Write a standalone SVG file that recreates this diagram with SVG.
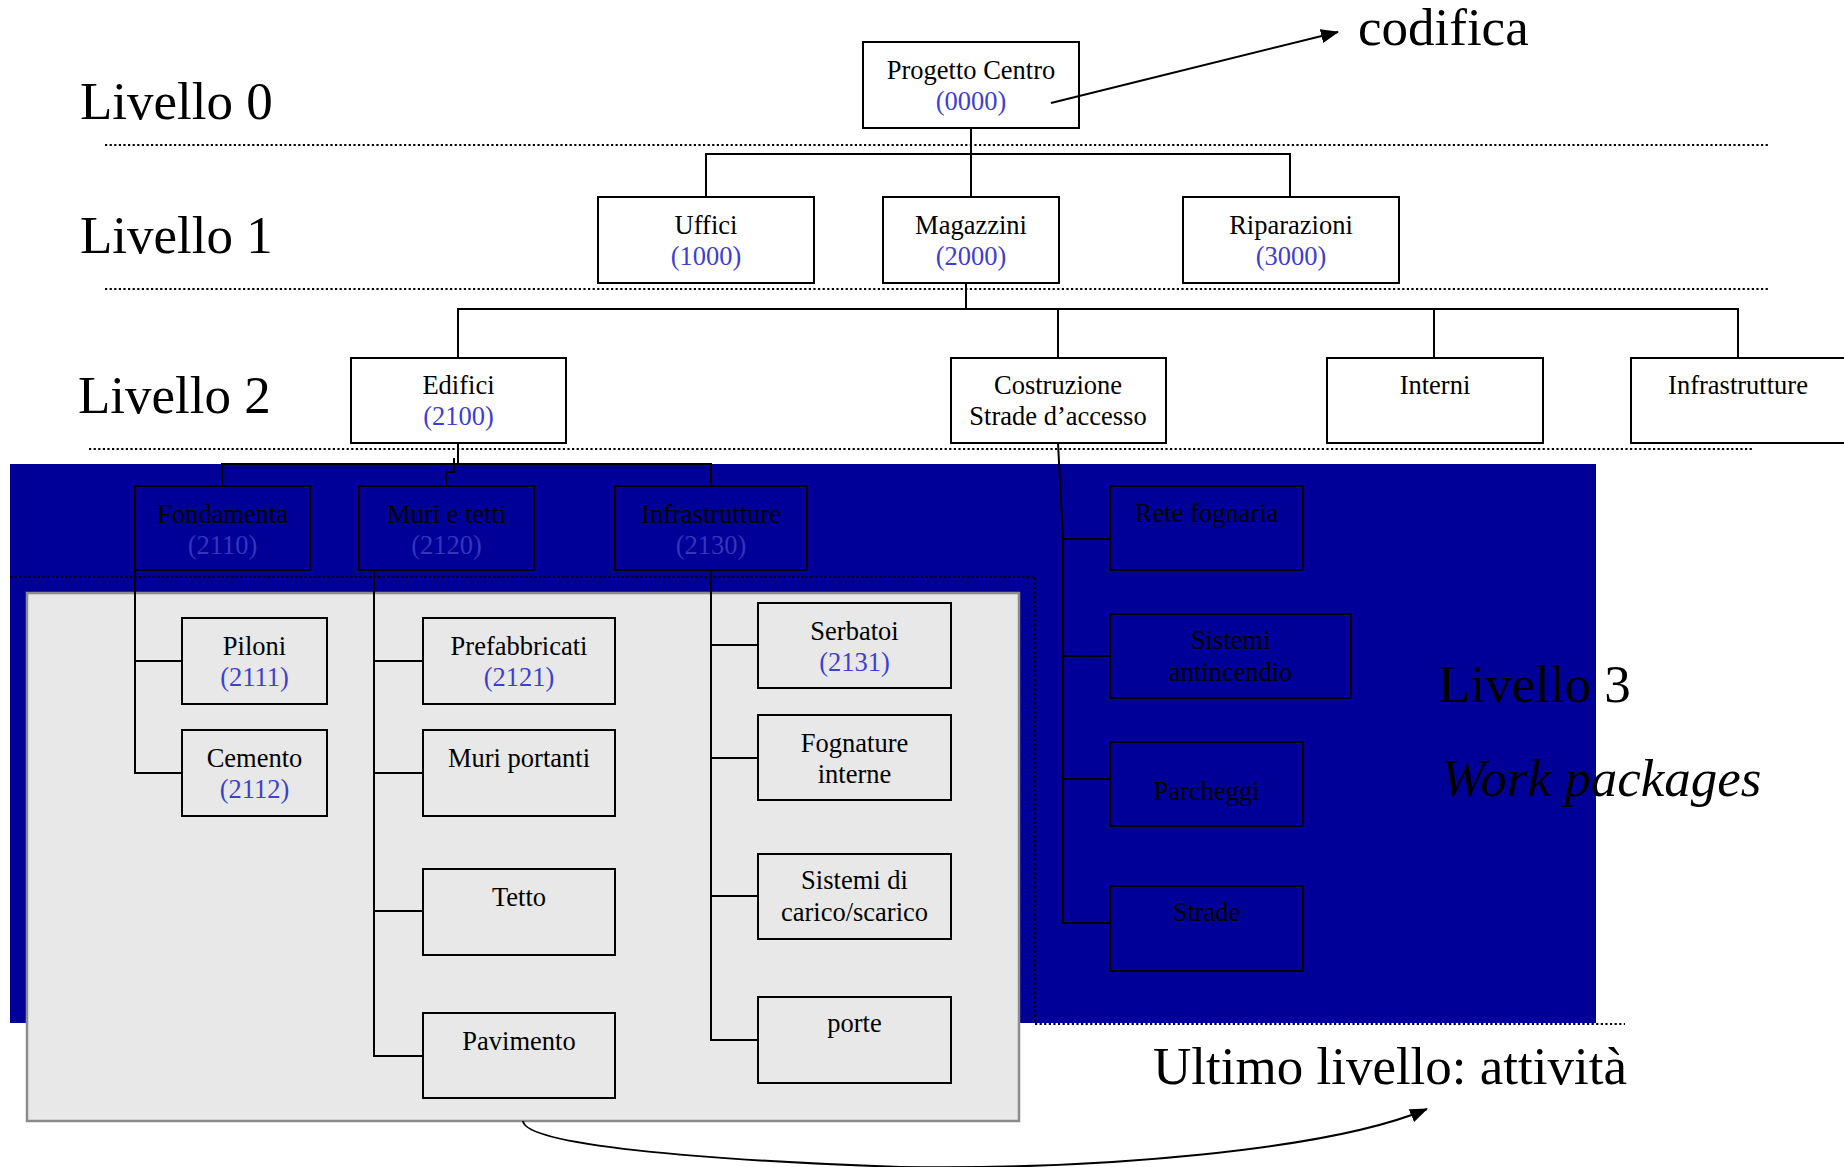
<svg xmlns="http://www.w3.org/2000/svg" width="1844" height="1167" viewBox="0 0 1844 1167">
  <style>
    .lvl { font-family: "Liberation Serif", "Times New Roman", serif; font-size: 53px; fill: #000; }
    .lvl-i { font-family: "Liberation Serif", "Times New Roman", serif; font-size: 53px; font-style: italic; fill: #000; }
    .t { font-family: "Liberation Serif", "Times New Roman", serif; font-size: 26.5px; fill: #000; text-anchor: middle; }
    .code { fill: #3f3fcf; }
    .code-dk { fill: #3434bd; }
    .box { stroke: #000; stroke-width: 2; }
    .white { fill: #fff; }
    .blue { fill: #000099; }
    .grey { fill: #e8e8e8; }
    .conn { fill: none; stroke: #000; stroke-width: 2; }
    .dots { fill: none; stroke: #000; stroke-width: 2; stroke-dasharray: 2.2 2.4; }
  </style>
  <defs>
    <marker id="arrow" markerUnits="userSpaceOnUse" markerWidth="18" markerHeight="14" refX="17" refY="7" orient="auto">
      <path d="M0,0 L18,7 L0,14 z" fill="#000"/>
    </marker>
  </defs>

  <rect width="1844" height="1167" fill="#fff"/>

  <!-- work package band and activity area -->
  <rect x="10" y="464" width="1586" height="559" class="blue"/>
  <path class="dots" d="M10,577 H1035 V1024 H1625"/>
  <rect x="27" y="593" width="992" height="528" fill="#e8e8e8" stroke="#8c8c8c" stroke-width="2.5"/>

  <!-- level separators -->
  <g id="separators">
    <line class="dots" x1="105" y1="145" x2="1769" y2="145"/>
    <line class="dots" x1="105" y1="289" x2="1769" y2="289"/>
    <line class="dots" x1="89" y1="449" x2="1753" y2="449"/>
  </g>

  <!-- level labels -->
  <g id="labels">
    <text class="lvl" x="80" y="119">Livello 0</text>
    <text class="lvl" x="80" y="253">Livello 1</text>
    <text class="lvl" x="78" y="413">Livello 2</text>
    <text class="lvl" x="1438" y="702">Livello 3</text>
    <text class="lvl-i" x="1441" y="796">Work packages</text>
    <text class="lvl" x="1153" y="1084">Ultimo livello: attività</text>
    <text class="lvl" x="1358" y="45">codifica</text>
  </g>

  <!-- level 0 -->
  <g id="progetto">
    <rect class="box white" x="863" y="42" width="216" height="86"/>
    <text class="t" x="971" y="79">Progetto Centro</text>
    <text class="t code" x="971" y="110">(0000)</text>
  </g>

  <!-- level 1 -->
  <g id="uffici">
    <rect class="box white" x="598" y="197" width="216" height="86"/>
    <text class="t" x="706" y="234">Uffici</text>
    <text class="t code" x="706" y="265">(1000)</text>
  </g>
  <g id="magazzini">
    <rect class="box white" x="883" y="197" width="176" height="86"/>
    <text class="t" x="971" y="234">Magazzini</text>
    <text class="t code" x="971" y="265">(2000)</text>
  </g>
  <g id="riparazioni">
    <rect class="box white" x="1183" y="197" width="216" height="86"/>
    <text class="t" x="1291" y="234">Riparazioni</text>
    <text class="t code" x="1291" y="265">(3000)</text>
  </g>

  <!-- level 2 -->
  <g id="edifici">
    <rect class="box white" x="351" y="358" width="215" height="85"/>
    <text class="t" x="458.5" y="394">Edifici</text>
    <text class="t code" x="458.5" y="425">(2100)</text>
  </g>
  <g id="costruzione">
    <rect class="box white" x="951" y="358" width="215" height="85"/>
    <text class="t" x="1058" y="394">Costruzione</text>
    <text class="t" x="1058" y="425">Strade d’accesso</text>
  </g>
  <g id="interni">
    <rect class="box white" x="1327" y="358" width="216" height="85"/>
    <text class="t" x="1435" y="394">Interni</text>
  </g>
  <g id="infrastrutture-2">
    <rect class="box white" x="1631" y="358" width="216" height="85"/>
    <text class="t" x="1738" y="394">Infrastrutture</text>
  </g>

  <!-- level 3 -->
  <g id="fondamenta">
    <rect class="box blue" x="135" y="486" width="175" height="84"/>
    <text class="t" x="222.5" y="523">Fondamenta</text>
    <text class="t code-dk" x="222.5" y="554">(2110)</text>
  </g>
  <g id="muri-tetti">
    <rect class="box blue" x="359" y="486" width="175" height="84"/>
    <text class="t" x="446.5" y="523">Muri e tetti</text>
    <text class="t code-dk" x="446.5" y="554">(2120)</text>
  </g>
  <g id="infrastrutture-3">
    <rect class="box blue" x="615" y="486" width="192" height="84"/>
    <text class="t" x="711" y="523">Infrastrutture</text>
    <text class="t code-dk" x="711" y="554">(2130)</text>
  </g>
  <g id="rete-fognaria">
    <rect class="box blue" x="1110" y="486" width="193" height="84"/>
    <text class="t" x="1206.5" y="522">Rete fognaria</text>
  </g>
  <g id="sistemi-antincendio">
    <rect class="box blue" x="1110" y="614" width="241" height="84"/>
    <text class="t" x="1230.5" y="649">Sistemi</text>
    <text class="t" x="1230.5" y="681">antincendio</text>
  </g>
  <g id="parcheggi">
    <rect class="box blue" x="1110" y="742" width="193" height="84"/>
    <text class="t" x="1206.5" y="800">Parcheggi</text>
  </g>
  <g id="strade">
    <rect class="box blue" x="1110" y="886" width="193" height="85"/>
    <text class="t" x="1206.5" y="921">Strade</text>
  </g>

  <!-- activities -->
  <g id="piloni">
    <rect class="box grey" x="182" y="618" width="145" height="86"/>
    <text class="t" x="254.5" y="655">Piloni</text>
    <text class="t code" x="254.5" y="686">(2111)</text>
  </g>
  <g id="cemento">
    <rect class="box grey" x="182" y="730" width="145" height="86"/>
    <text class="t" x="254.5" y="767">Cemento</text>
    <text class="t code" x="254.5" y="798">(2112)</text>
  </g>
  <g id="prefabbricati">
    <rect class="box grey" x="423" y="618" width="192" height="86"/>
    <text class="t" x="519" y="655">Prefabbricati</text>
    <text class="t code" x="519" y="686">(2121)</text>
  </g>
  <g id="muri-portanti">
    <rect class="box grey" x="423" y="730" width="192" height="86"/>
    <text class="t" x="519" y="767">Muri portanti</text>
  </g>
  <g id="tetto">
    <rect class="box grey" x="423" y="869" width="192" height="86"/>
    <text class="t" x="519" y="906">Tetto</text>
  </g>
  <g id="pavimento">
    <rect class="box grey" x="423" y="1013" width="192" height="85"/>
    <text class="t" x="519" y="1050">Pavimento</text>
  </g>
  <g id="serbatoi">
    <rect class="box grey" x="758" y="603" width="193" height="85"/>
    <text class="t" x="854.5" y="640">Serbatoi</text>
    <text class="t code" x="854.5" y="671">(2131)</text>
  </g>
  <g id="fognature">
    <rect class="box grey" x="758" y="715" width="193" height="85"/>
    <text class="t" x="854.5" y="752">Fognature</text>
    <text class="t" x="854.5" y="783">interne</text>
  </g>
  <g id="carico-scarico">
    <rect class="box grey" x="758" y="854" width="193" height="85"/>
    <text class="t" x="854.5" y="889">Sistemi di</text>
    <text class="t" x="854.5" y="921">carico/scarico</text>
  </g>
  <g id="porte">
    <rect class="box grey" x="758" y="997" width="193" height="86"/>
    <text class="t" x="854.5" y="1032">porte</text>
  </g>

  <!-- connectors (drawn last so the codifica pointer starts inside its box) -->
  <g id="connectors">
    <path class="conn" d="M971,128 V197 M706,197 V154 H1290 V197"/>
    <path class="conn" d="M966,283 V309 M458,358 V309 H1738 V358 M1058,309 V358 M1434,309 V358"/>
    <path class="conn" d="M458,443 V464 M222,486 V464 H711 V486 M454,458 V472 H446 V486"/>
    <path class="conn" d="M135,570 V773 H182 M135,661 H182"/>
    <path class="conn" d="M374,570 V1056 H423 M374,661 H423 M374,773 H423 M374,911 H423"/>
    <path class="conn" d="M711,570 V1040 H758 M711,645 H758 M711,758 H758 M711,896 H758"/>
    <path class="conn" d="M1058,443 L1063,539 V923 H1110 M1063,539 H1110 M1063,656 H1110 M1063,779 H1110"/>
    <path class="conn" d="M1051,103 L1338,32" marker-end="url(#arrow)"/>
    <path class="conn" d="M523,1121 C525,1145 700,1160 900,1167 C1100,1170 1330,1150 1427,1109" marker-end="url(#arrow)"/>
  </g>
</svg>
